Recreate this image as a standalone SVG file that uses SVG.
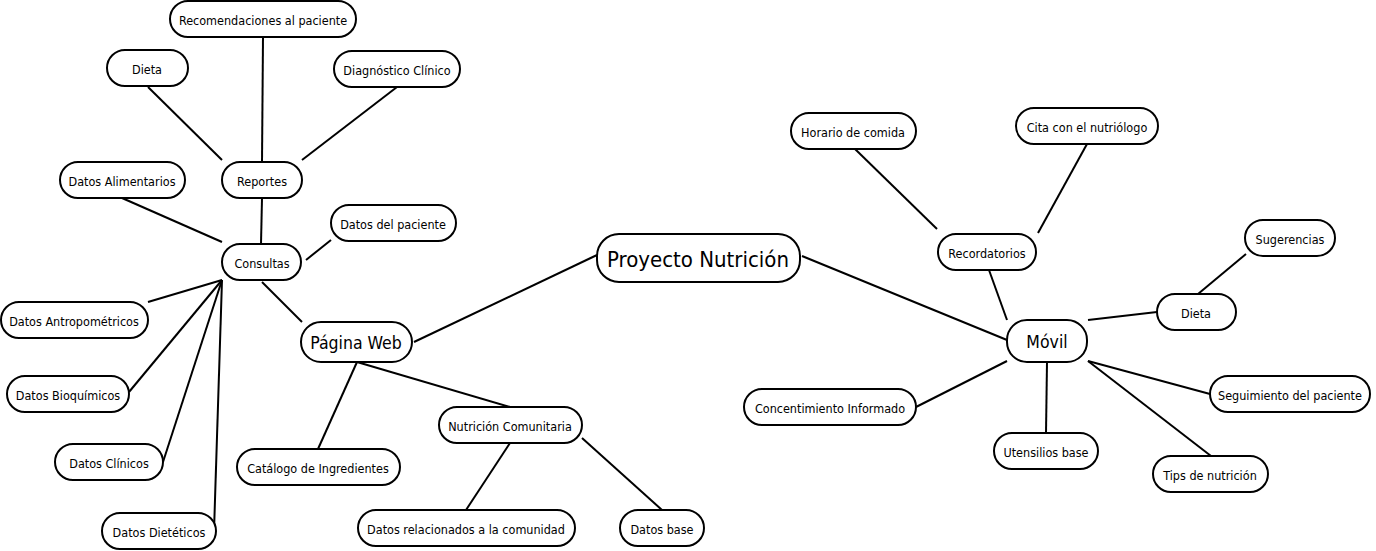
<svg xmlns="http://www.w3.org/2000/svg" width="1376" height="551" viewBox="0 0 1376 551">
<style>
.n rect{fill:#fff;stroke:#000;stroke-width:2}
.n text{font-family:"DejaVu Sans Condensed","DejaVu Sans",sans-serif;font-size:12.5px;text-anchor:middle;dominant-baseline:central;fill:#000}
.n.m text{font-size:17.5px}
.n.r text{font-size:22px}
#connectors line{stroke:#000;stroke-width:2}
</style>
<rect width="1376" height="551" fill="#fff"/>
<g id="connectors">
<line x1="263" y1="37" x2="262" y2="162"/>
<line x1="148" y1="87" x2="222" y2="160"/>
<line x1="397" y1="87" x2="302" y2="160"/>
<line x1="262" y1="198" x2="261" y2="244"/>
<line x1="122" y1="198" x2="222" y2="242"/>
<line x1="331" y1="240" x2="306" y2="260"/>
<line x1="222" y1="280" x2="148" y2="302"/>
<line x1="222" y1="280" x2="129" y2="392"/>
<line x1="222" y1="280" x2="163" y2="462"/>
<line x1="222" y1="280" x2="214" y2="531"/>
<line x1="262" y1="282" x2="302" y2="322"/>
<line x1="414" y1="342" x2="597" y2="255"/>
<line x1="357" y1="362" x2="318" y2="449"/>
<line x1="357" y1="362" x2="510" y2="407"/>
<line x1="510" y1="443" x2="466" y2="510"/>
<line x1="582" y1="438" x2="662" y2="510"/>
<line x1="802" y1="256" x2="1007" y2="340"/>
<line x1="855" y1="149" x2="937" y2="229"/>
<line x1="1087" y1="144" x2="1038" y2="233"/>
<line x1="989" y1="270" x2="1007" y2="320"/>
<line x1="1246" y1="254" x2="1198" y2="294"/>
<line x1="1157" y1="312" x2="1088" y2="320"/>
<line x1="1007" y1="361" x2="916" y2="407"/>
<line x1="1047" y1="362" x2="1046" y2="433"/>
<line x1="1088" y1="361" x2="1210" y2="394"/>
<line x1="1088" y1="361" x2="1211" y2="456"/>
</g>
<g id="recomendaciones" class="n"><rect x="170" y="1" width="186" height="36" rx="18"/><text x="263" y="20">Recomendaciones al paciente</text></g>
<g id="dieta-web" class="n"><rect x="107" y="50" width="81" height="36" rx="18"/><text x="147" y="69">Dieta</text></g>
<g id="diagnostico" class="n"><rect x="334" y="51" width="126" height="36" rx="18"/><text x="397" y="70">Diagnóstico Clínico</text></g>
<g id="alimentarios" class="n"><rect x="60" y="162" width="125" height="36" rx="18"/><text x="122" y="181">Datos Alimentarios</text></g>
<g id="reportes" class="n"><rect x="222" y="162" width="80" height="36" rx="18"/><text x="262" y="181">Reportes</text></g>
<g id="datos-paciente" class="n"><rect x="331" y="205" width="125" height="36" rx="18"/><text x="393" y="224">Datos del paciente</text></g>
<g id="consultas" class="n"><rect x="222" y="244" width="79" height="36" rx="18"/><text x="262" y="263">Consultas</text></g>
<g id="antropometricos" class="n"><rect x="1" y="302" width="147" height="36" rx="18"/><text x="74" y="321">Datos Antropométricos</text></g>
<g id="bioquimicos" class="n"><rect x="7" y="376" width="122" height="36" rx="18"/><text x="68" y="395">Datos Bioquímicos</text></g>
<g id="clinicos" class="n"><rect x="55" y="444" width="108" height="36" rx="18"/><text x="109" y="463">Datos Clínicos</text></g>
<g id="dieteticos" class="n"><rect x="102" y="513" width="114" height="36" rx="18"/><text x="159" y="532">Datos Dietéticos</text></g>
<g id="pagina-web" class="n m"><rect x="301" y="322" width="111" height="40" rx="20"/><text x="356" y="343">Página Web</text></g>
<g id="catalogo" class="n"><rect x="237" y="449" width="163" height="36" rx="18"/><text x="318" y="468">Catálogo de Ingredientes</text></g>
<g id="nutricion-comunitaria" class="n"><rect x="439" y="407" width="143" height="36" rx="18"/><text x="510" y="426">Nutrición Comunitaria</text></g>
<g id="datos-comunidad" class="n"><rect x="358" y="510" width="217" height="36" rx="18"/><text x="466" y="529">Datos relacionados a la comunidad</text></g>
<g id="datos-base" class="n"><rect x="620" y="510" width="84" height="36" rx="18"/><text x="662" y="529">Datos base</text></g>
<g id="proyecto" class="n r"><rect x="597" y="234" width="203" height="48" rx="22"/><text x="698" y="259">Proyecto Nutrición</text></g>
<g id="horario" class="n"><rect x="791" y="113" width="125" height="36" rx="18"/><text x="853" y="132">Horario de comida</text></g>
<g id="cita" class="n"><rect x="1016" y="108" width="142" height="36" rx="18"/><text x="1087" y="127">Cita con el nutriólogo</text></g>
<g id="recordatorios" class="n"><rect x="938" y="234" width="98" height="36" rx="18"/><text x="987" y="253">Recordatorios</text></g>
<g id="sugerencias" class="n"><rect x="1245" y="220" width="90" height="36" rx="18"/><text x="1290" y="239">Sugerencias</text></g>
<g id="dieta-movil" class="n"><rect x="1157" y="294" width="79" height="36" rx="18"/><text x="1196" y="313">Dieta</text></g>
<g id="movil" class="n m"><rect x="1007" y="320" width="80" height="42" rx="20"/><text x="1047" y="342">Móvil</text></g>
<g id="concentimiento" class="n"><rect x="744" y="389" width="172" height="36" rx="18"/><text x="830" y="408">Concentimiento Informado</text></g>
<g id="utensilios" class="n"><rect x="994" y="433" width="104" height="36" rx="18"/><text x="1046" y="452">Utensilios base</text></g>
<g id="seguimiento" class="n"><rect x="1210" y="376" width="160" height="36" rx="18"/><text x="1290" y="395">Seguimiento del paciente</text></g>
<g id="tips" class="n"><rect x="1153" y="456" width="115" height="36" rx="18"/><text x="1210" y="475">Tips de nutrición</text></g>
</svg>
